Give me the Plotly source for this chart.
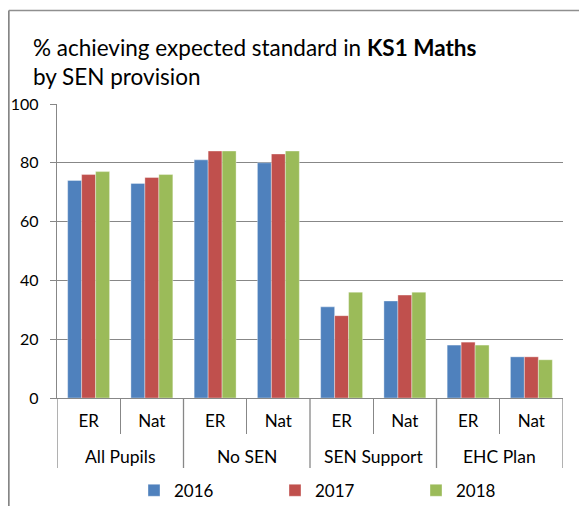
import plotly.graph_objects as go

groups = ["All Pupils", "No SEN", "SEN Support", "EHC Plan"]
subcats = ["ER", "Nat", "ER", "Nat", "ER", "Nat", "ER", "Nat"]
years = ["2016", "2017", "2018"]
v2016 = [74, 73, 81, 80, 31, 33, 18, 14]
v2017 = [76, 75, 84, 83, 28, 35, 19, 14]
v2018 = [77, 76, 84, 84, 36, 36, 18, 13]
series = [v2016, v2017, v2018]
colors = ["#4F81BD", "#C0504D", "#9BBB59"]
yticks = [0, 20, 40, 60, 80, 100]

FONT = "Lato, 'Open Sans', sans-serif"
GRAY = "#878787"

# page body has an 8px margin; the figure is sized to fit the window
OFF = 8
W, H = 587 - OFF, 506 - OFF
ML, MT = 57 - OFF, 104 - OFF
PW, PH = 506.5, 294.0
MR, MB = W - ML - PW, H - MT - PH

xpos = list(range(len(subcats)))
fig = go.Figure()
for name, vals, col in zip(years, series, colors):
    fig.add_trace(go.Bar(x=xpos, y=vals, name=name, marker_color=col,
                         marker_line=dict(width=0.6, color="rgba(255,255,255,0.6)")))

def py(px_below):
    return -px_below / PH

shapes = []
n_per = len(subcats) // len(groups)
for k in range(len(groups) + 1):
    xb = k * n_per - 0.5
    shapes.append(dict(type="line", xref="x", yref="paper", x0=xb, x1=xb,
                       y0=0, y1=py(70), line=dict(color=GRAY, width=1.3)))
fx0 = (0.8 - ML) / PW
fy_top = 1 + (MT - 2.5) / PH
fy_bot = -(MB + 5) / PH
shapes.append(dict(type="line", xref="paper", yref="paper", x0=fx0, x1=fx0,
                   y0=fy_bot, y1=fy_top, line=dict(color="#7f7f7f", width=1.6)))
shapes.append(dict(type="line", xref="paper", yref="paper", x0=fx0, x1=1.2,
                   y0=fy_top, y1=fy_top, line=dict(color="#8f8f8f", width=1.6)))

annotations = []
for k, g in enumerate(groups):
    annotations.append(dict(text=g, xref="x", yref="paper", x=k * n_per + (n_per - 1) / 2,
                            y=py(58.7), yanchor="middle", showarrow=False,
                            font=dict(family=FONT, size=17.5, color="#000")))

fig.update_layout(
    width=W, height=H,
    margin=dict(l=ML, r=MR, t=MT, b=MB, autoexpand=False),
    paper_bgcolor="white", plot_bgcolor="white",
    barmode="group", bargap=0.337, bargroupgap=0,
    font=dict(family=FONT, color="#000"),
    title=dict(text="% achieving expected standard in <b>KS1 Maths</b><br>by SEN provision",
               x=25 / W, xref="container", xanchor="left",
               y=1 - 48 / H, yref="container", yanchor="top",
               font=dict(family=FONT, size=22.5, color="#000")),
    xaxis=dict(range=[-0.5, len(subcats) - 0.5], tickmode="array", tickvals=xpos,
               ticktext=subcats, ticks="", showgrid=False, zeroline=False,
               showline=True, linecolor=GRAY, linewidth=1.3, automargin=False,
               tickfont=dict(family=FONT, size=17, color="#000"),
               ticklabelstandoff=7,
               minor=dict(tickmode="array", tickvals=[k * n_per + 0.5 for k in range(len(groups))],
                          ticks="outside", ticklen=35, tickcolor=GRAY, tickwidth=1.3,
                          showgrid=False)),
    yaxis=dict(range=[0, 100], tickmode="array", tickvals=yticks, ticks="outside",
               ticklen=6, tickcolor=GRAY, tickwidth=1.3, showgrid=True,
               gridcolor=GRAY, gridwidth=1.3, zeroline=False, showline=True,
               linecolor=GRAY, linewidth=1.3, ticklabelstandoff=8, automargin=False,
               tickfont=dict(family=FONT, size=16, color="#000")),
    legend=dict(orientation="h", x=126 / W, xref="container", xanchor="left",
                y=1 - 482.7 / H, yref="container", yanchor="middle",
                entrywidth=96, entrywidthmode="pixels",
                font=dict(family=FONT, size=17, color="#000"), itemwidth=30,
                bgcolor="rgba(0,0,0,0)"),
    shapes=shapes, annotations=annotations,
)

fig.write_html("out.html")
